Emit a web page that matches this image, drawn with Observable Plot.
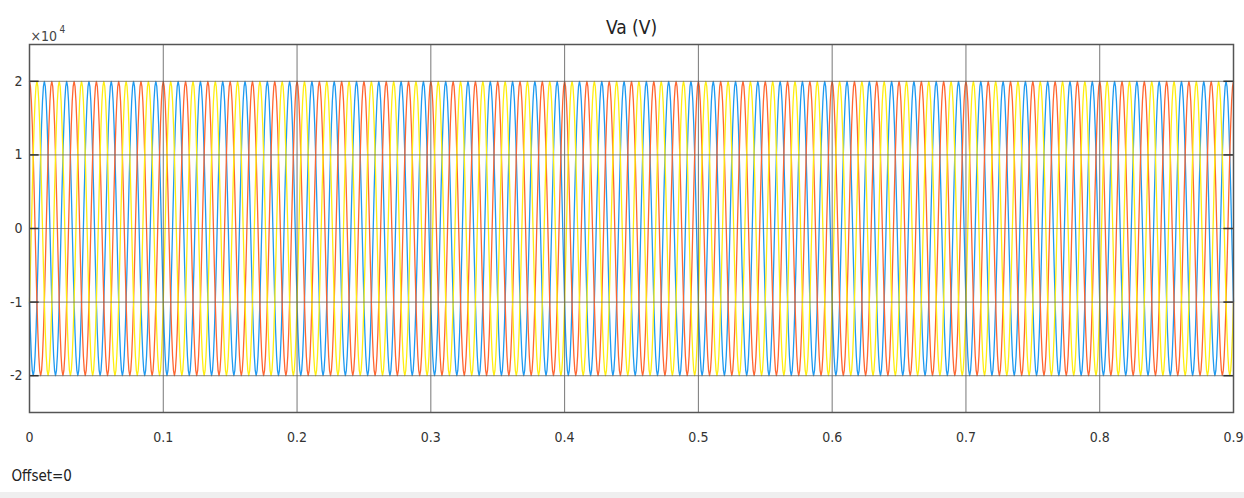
<!DOCTYPE html>
<html>
<head>
<meta charset="utf-8">
<script src="https://cdn.jsdelivr.net/npm/d3@7"></script>
<script src="https://cdn.jsdelivr.net/npm/@observablehq/plot@0.6"></script>
<style>
  html, body { margin: 0; padding: 0; background: #fff; }
  #band { height: 6px; background: #efefef; }
  svg text { font-stretch: condensed; }
</style>
</head>
<body>
<div id="chart"></div>
<div id="band"></div>
<script>
// ---- data ----
const seriesNames = ["phase A", "phase B", "phase C"];
const seriesColors = ["#1e9af0", "#ff6630", "#ffee10"];
// one cycle of the waveform (normalised), 24 samples, starting at the orange peak
const cycleShape = [1, 0.966, 0.866, 0.707, 0.5, 0.259, 0, -0.259, -0.5, -0.707, -0.866, -0.966,
                    -1, -0.966, -0.866, -0.707, -0.5, -0.259, 0, 0.259, 0.5, 0.707, 0.866, 0.966];
const sampleShift = [8, 0, 16];      // sample offset of each series inside the cycle
const peakVolts = [20000];
const frequencyHz = [60];
const timeEnd = [0.9];
const xTicks = [0, 0.1, 0.2, 0.3, 0.4, 0.5, 0.6, 0.7, 0.8, 0.9];
const yTicks = [-20000, -10000, 0, 10000, 20000];
const titleText = ["Va (V)"];
const exponentBase = ["×10"];
const exponentPower = ["4"];
const footerText = ["Offset=0"];

// ---- build table ----
const n = cycleShape.length;
const dt = 1 / (frequencyHz[0] * n);
const total = Math.round(timeEnd[0] / dt);
const rows = [];
seriesNames.forEach((name, s) => {
  for (let i = 0; i <= total; i++) {
    rows.push({series: name, t: i * dt, v: peakVolts[0] * cycleShape[(i + sampleShift[s]) % n]});
  }
});

const font = "'DejaVu Sans Condensed', 'Liberation Sans Narrow', 'Liberation Sans', Arial, sans-serif";
const tickLen = 0.008;

const chart = Plot.plot({
  width: 1244,
  height: 492,
  marginLeft: 29,
  marginRight: 11,
  marginTop: 44,
  marginBottom: 80,
  style: {fontFamily: font, fontSize: "14px", color: "#333", background: "#fff"},
  x: {domain: [0, timeEnd[0]], ticks: xTicks, tickSize: 0, tickPadding: 20, tickFormat: d => d === 0 ? "0" : String(+d.toFixed(1)), label: null},
  y: {domain: [-25000, 25000], ticks: yTicks, tickSize: 0, tickPadding: 7, tickFormat: d => String(d / 10000), label: null},
  color: {domain: seriesNames, range: seriesColors},
  marks: [
    Plot.line(rows, {x: "t", y: "v", z: "series", stroke: "series", strokeWidth: 1.3}),
    Plot.ruleX(xTicks.slice(1, -1), {stroke: "#555", strokeOpacity: 0.8, strokeWidth: 1}),
    Plot.ruleY(yTicks, {stroke: "#666", strokeOpacity: 0.65, strokeWidth: 1.2}),
    Plot.ruleY(yTicks, {x1: 0, x2: tickLen * timeEnd[0], stroke: "#333", strokeWidth: 1.5}),
    Plot.ruleY(yTicks, {x1: timeEnd[0] * (1 - tickLen), x2: timeEnd[0], stroke: "#333", strokeWidth: 1.5}),
    Plot.frame({stroke: "#555", strokeWidth: 1.5}),
    Plot.text(titleText, {frameAnchor: "top", dy: -24, fontSize: 19, fill: "#222"}),
    Plot.text(exponentBase, {frameAnchor: "top-left", dx: 1, dy: -13, fontSize: 14, textAnchor: "start", fill: "#444"}),
    Plot.text(exponentPower, {frameAnchor: "top-left", dx: 30, dy: -19, fontSize: 10, textAnchor: "start", fill: "#444"}),
    Plot.text(footerText, {frameAnchor: "bottom-left", dx: -18, dy: 68, fontSize: 15, textAnchor: "start", fill: "#222"})
  ]
});
document.getElementById("chart").append(chart);
</script>
</body>
</html>
